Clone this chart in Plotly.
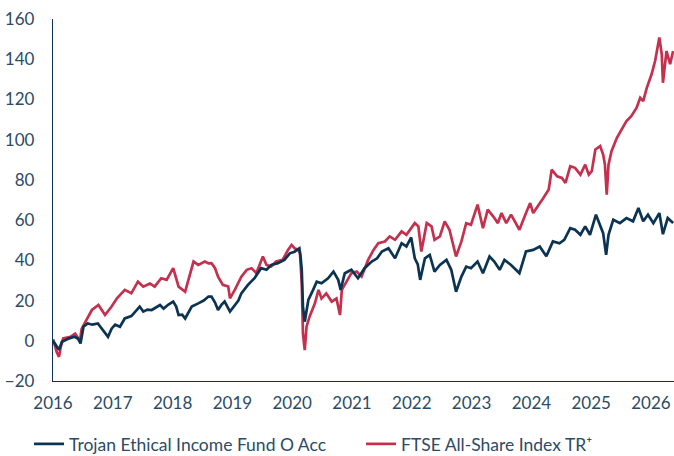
import plotly.graph_objects as go

# Decimal-year dates and cumulative performance (%)
fund_x = [2016.00, 2016.03, 2016.06, 2016.10, 2016.15, 2016.22, 2016.27, 2016.36, 2016.42, 2016.46,
          2016.51, 2016.58, 2016.66, 2016.75, 2016.83, 2016.92, 2016.98, 2017.04, 2017.12, 2017.20,
          2017.31, 2017.40, 2017.45, 2017.51, 2017.58, 2017.65, 2017.72, 2017.79, 2017.85, 2017.93,
          2018.01, 2018.06, 2018.10, 2018.16, 2018.21, 2018.27, 2018.32, 2018.43, 2018.52, 2018.60,
          2018.65, 2018.71, 2018.76, 2018.82, 2018.87, 2018.96, 2019.04, 2019.10, 2019.15, 2019.26,
          2019.37, 2019.48, 2019.57, 2019.65, 2019.76, 2019.87, 2019.96, 2020.04, 2020.12, 2020.14,
          2020.16, 2020.18, 2020.21, 2020.24, 2020.27, 2020.35, 2020.41, 2020.49, 2020.60, 2020.69,
          2020.77, 2020.81, 2020.88, 2020.99, 2021.10, 2021.21, 2021.33, 2021.42, 2021.50, 2021.61,
          2021.72, 2021.83, 2021.91, 2021.99, 2022.05, 2022.10, 2022.14, 2022.22, 2022.30, 2022.38,
          2022.47, 2022.58, 2022.66, 2022.74, 2022.83, 2022.91, 2022.99, 2023.10, 2023.19, 2023.30,
          2023.38, 2023.47, 2023.55, 2023.66, 2023.80, 2023.91, 2024.03, 2024.14, 2024.25, 2024.36,
          2024.47, 2024.55, 2024.65, 2024.73, 2024.82, 2024.90, 2024.98, 2025.08, 2025.15, 2025.20,
          2025.25, 2025.29, 2025.37, 2025.48, 2025.59, 2025.70, 2025.79, 2025.87, 2025.95, 2026.04,
          2026.14, 2026.20, 2026.28, 2026.37]
fund_y = [0, -1.5, -3, -4.5, -0.5, 0.5, 1.2, 2, 1, -1.3,
          7, 8.6, 8, 8.6, 5.3, 2, 6, 8, 7, 11.1,
          12.3, 15, 17, 14.5, 15.5, 15.3, 16.5, 17.8, 16, 18,
          19.5, 17, 12.8, 13, 11.1, 14, 17, 18.6, 20, 22,
          22, 19, 15.3, 18, 19.5, 14.5, 17.8, 20, 23.6, 27.8,
          31.1, 36.1, 35.3, 37.7, 38.6, 40.2, 43.5, 44.3, 46, 42,
          35.3, 17, 9.5, 15, 20.3, 25.3, 29.4, 28.6, 31.1, 34.4,
          30.3, 25.3, 33.6, 35.3, 31.1, 36.1, 39.4, 41, 44.4, 46,
          41, 48.5, 46.9, 51.4, 41, 38, 30.3, 41, 42.7, 34.4,
          37.7, 40.2, 35.3, 24.4, 31.9, 36.9, 36.1, 39.4, 33.6, 41.9,
          39.4, 35.3, 40.2, 37.7, 33.6, 44.4, 45.2, 46.9, 42, 49.4,
          48.5, 50.2, 56, 55.2, 52.7, 56.9, 52.7, 62.7, 57.7, 53.5,
          42.7, 52.7, 60.2, 58.5, 61, 59.4, 66, 59.4, 62.7, 58.5,
          63.5, 53, 61, 58.5]

index_x = [2016.00, 2016.03, 2016.06, 2016.10, 2016.13, 2016.17, 2016.29, 2016.37, 2016.45, 2016.48,
           2016.56, 2016.65, 2016.76, 2016.87, 2016.98, 2017.07, 2017.20, 2017.31, 2017.42, 2017.51,
           2017.62, 2017.70, 2017.81, 2017.90, 2018.01, 2018.06, 2018.10, 2018.21, 2018.28, 2018.35,
           2018.43, 2018.54, 2018.60, 2018.65, 2018.71, 2018.76, 2018.84, 2018.93, 2018.96, 2019.04,
           2019.15, 2019.24, 2019.32, 2019.40, 2019.51, 2019.57, 2019.65, 2019.73, 2019.84, 2019.93,
           2019.99, 2020.04, 2020.10, 2020.13, 2020.16, 2020.18, 2020.21, 2020.24, 2020.29, 2020.38,
           2020.44, 2020.49, 2020.57, 2020.66, 2020.74, 2020.80, 2020.83, 2020.88, 2020.99, 2021.08,
           2021.16, 2021.27, 2021.36, 2021.44, 2021.55, 2021.63, 2021.72, 2021.83, 2021.91, 2022.05,
           2022.11, 2022.16, 2022.25, 2022.33, 2022.38, 2022.47, 2022.55, 2022.63, 2022.74, 2022.83,
           2022.91, 2022.99, 2023.10, 2023.19, 2023.27, 2023.36, 2023.44, 2023.50, 2023.58, 2023.66,
           2023.80, 2023.92, 2023.98, 2024.03, 2024.11, 2024.20, 2024.29, 2024.34, 2024.43, 2024.51,
           2024.57, 2024.65, 2024.73, 2024.82, 2024.90, 2024.96, 2025.01, 2025.07, 2025.15, 2025.20,
           2025.23, 2025.26, 2025.29, 2025.34, 2025.43, 2025.48, 2025.59, 2025.67, 2025.76, 2025.82,
           2025.87, 2025.93, 2026.01, 2026.07, 2026.14, 2026.18, 2026.20, 2026.26, 2026.32, 2026.37]
index_y = [0.8, -2, -5.5, -8, -3, 1.2, 2, 3.6, 0, 6,
           10.3, 15.3, 17.8, 12.8, 17, 21.1, 25.3, 23.6, 29.4, 26.9,
           28.5, 26.9, 31.1, 30.3, 36.1, 31, 26.9, 24.4, 32, 39.4,
           37.7, 39.4, 38.5, 38.6, 36.1, 31.9, 27.8, 27, 21.1, 25.3,
           31.9, 35.3, 36.1, 33.6, 41.9, 37.7, 37, 39.4, 40.2, 45.2,
           47.7, 46, 45.2, 43.5, 28.6, 3.6, -4.6, 7, 12, 18.6,
           25.3, 21, 23.6, 19.5, 21, 12.8, 25.3, 27.8, 33.6, 34.4,
           31.9, 40.2, 45.2, 48.5, 49.4, 51.9, 50.2, 54.4, 52.7, 58.5,
           56.9, 44.4, 58.5, 56.9, 50.2, 51.9, 59.4, 55.2, 41.9, 49.4,
           58.5, 57.7, 67.7, 56, 65.2, 61.9, 58.5, 63.5, 58.5, 62.7,
           55.2, 64.3, 68.5, 63.5, 66.8, 71, 75.2, 85.1, 81.8, 81,
           78.5, 86.8, 86, 82.6, 87.6, 82.6, 84.3, 95.1, 96.8, 92.6,
           87.6, 72.7, 87.6, 94.3, 100.9, 103.4, 109.2, 111.7, 115.9, 120.8,
           119.2, 125.8, 132.5, 139.2, 150.8, 142.5, 128.3, 144.1, 137.5, 144.1]

year_ticks = list(range(2016, 2027))
y_ticks = [-20, 0, 20, 40, 60, 80, 100, 120, 140, 160]

fund_name = "Trojan Ethical Income Fund O Acc"
index_name = "FTSE All-Share Index TR⁺"

NAVY = "#0b3352"
RED = "#c4314f"
TEXT = "#2b4b66"

fig = go.Figure()
fig.add_trace(go.Scatter(x=index_x, y=index_y, mode="lines", name=index_name,
                         line=dict(color=RED, width=2.7), legend="legend2"))
fig.add_trace(go.Scatter(x=fund_x, y=fund_y, mode="lines", name=fund_name,
                         line=dict(color=NAVY, width=2.7), legend="legend"))

legend_common = dict(orientation="h", xref="container", yref="container",
                     xanchor="left", y=12 / 456, yanchor="middle",
                     font=dict(size=17.5, color=TEXT), bgcolor="rgba(0,0,0,0)")

fig.update_layout(
    width=674, height=456,
    margin=dict(l=53, r=0, t=19, b=75),
    paper_bgcolor="white", plot_bgcolor="white",
    font=dict(family="Lato", size=17, color=TEXT),
    showlegend=True,
    legend=dict(x=29 / 674, **legend_common),
    legend2=dict(x=361 / 674, **legend_common),
    xaxis=dict(range=[2016, 2026.385], tickvals=year_ticks, ticktext=[str(y) for y in year_ticks],
               showgrid=False, zeroline=False, showline=True, linecolor=NAVY, linewidth=1.3,
               ticks="", ticklabelstandoff=6, automargin=False,
               tickfont=dict(size=17, color=TEXT)),
    yaxis=dict(range=[-20, 160], tickvals=y_ticks, showgrid=False, zeroline=False,
               showline=True, linecolor=NAVY, linewidth=1.3, ticks="", automargin=False,
               ticklabelstandoff=14, tickfont=dict(size=17, color=TEXT)),
)

fig.write_html("out.html", config={"displayModeBar": False},
               post_script="document.body.style.margin='0';")
